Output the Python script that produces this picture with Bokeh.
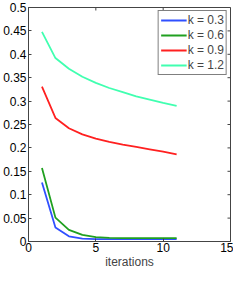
import math
from bokeh.plotting import figure
from bokeh.models import Range1d, FixedTicker, Legend, LegendItem
from bokeh.embed import file_html
from bokeh.resources import INLINE

iterations = [1, 2, 3, 4, 5, 6, 7, 8, 9, 10, 11]
k_labels = ["k = 0.3", "k = 0.6", "k = 0.9", "k = 1.2"]
err_k03 = [0.126, 0.030, 0.011, 0.006, 0.005, 0.005, 0.005, 0.005, 0.005, 0.005, 0.005]
err_k06 = [0.157, 0.051, 0.025, 0.014, 0.0095, 0.0078, 0.0072, 0.007, 0.007, 0.007, 0.007]
err_k09 = [0.331, 0.264, 0.242, 0.229, 0.220, 0.213, 0.207, 0.202, 0.197, 0.192, 0.186]
err_k12 = [0.448, 0.392, 0.369, 0.352, 0.339, 0.328, 0.319, 0.310, 0.303, 0.296, 0.290]
x_ticks = [0, 5, 10, 15]
y_ticks = [0, 0.05, 0.1, 0.15, 0.2, 0.25, 0.3, 0.35, 0.4, 0.45, 0.5]
x_lim = (0, 15)
y_lim = (0, 0.5)

colors = ["#3050ff", "#20a020", "#ff2020", "#40ffb0"]
series = [err_k03, err_k06, err_k09, err_k12]

FONT = "Liberation Sans"
FS = "12px"
p = figure(width=233, height=271, output_backend="svg", toolbar_location=None,
           x_range=Range1d(*x_lim), y_range=Range1d(*y_lim),
           min_border_left=0, min_border_right=3, min_border_top=7, min_border_bottom=0)
p.grid.visible = False
p.outline_line_color = "#444444"
p.outline_line_width = 1
p.background_fill_color = "white"
p.border_fill_color = "white"

bottom_ax = p.xaxis[0]
left_ax = p.yaxis[0]
for ax in (bottom_ax, left_ax):
    ax.axis_line_color = "#444444"
    ax.major_tick_line_color = "#444444"
    ax.major_tick_in = 3
    ax.major_tick_out = 0
    ax.minor_tick_line_color = None
    ax.major_label_text_font = FONT
    ax.major_label_text_font_size = FS
    ax.major_label_text_color = "black"
    ax.major_label_standoff = 2
bottom_ax.major_label_standoff = 1
bottom_ax.ticker = FixedTicker(ticks=x_ticks)
left_ax.ticker = FixedTicker(ticks=y_ticks)
bottom_ax.axis_label = "iterations"
bottom_ax.axis_label_text_font = FONT
bottom_ax.axis_label_text_font_size = FS
bottom_ax.axis_label_text_font_style = "normal"
bottom_ax.axis_label_standoff = 0

# inward ticks on the right and top edges of the box (MATLAB "box on" style)
p.ray(x=[x_lim[1]] * len(y_ticks), y=y_ticks, length=3, length_units="screen",
      angle=math.pi, line_color="#444444", line_width=1)
p.ray(x=x_ticks, y=[y_lim[1]] * len(x_ticks), length=3, length_units="screen",
      angle=-math.pi / 2, line_color="#444444", line_width=1)

items = []
for lbl, ys, c in zip(k_labels, series, colors):
    r = p.line(iterations, ys, line_color=c, line_width=1.8)
    items.append(LegendItem(label=lbl, renderers=[r]))

legend = Legend(items=items, location="top_right")
legend.label_text_font = FONT
legend.label_text_font_size = FS
legend.label_height = 12
legend.glyph_height = 12
legend.glyph_width = 26
legend.spacing = 1
legend.padding = 2
legend.margin = 3
legend.label_standoff = 1
legend.border_line_color = "black"
legend.border_line_width = 1
legend.background_fill_alpha = 1
p.add_layout(legend)

open("out.html", "w").write(file_html(p, INLINE))
